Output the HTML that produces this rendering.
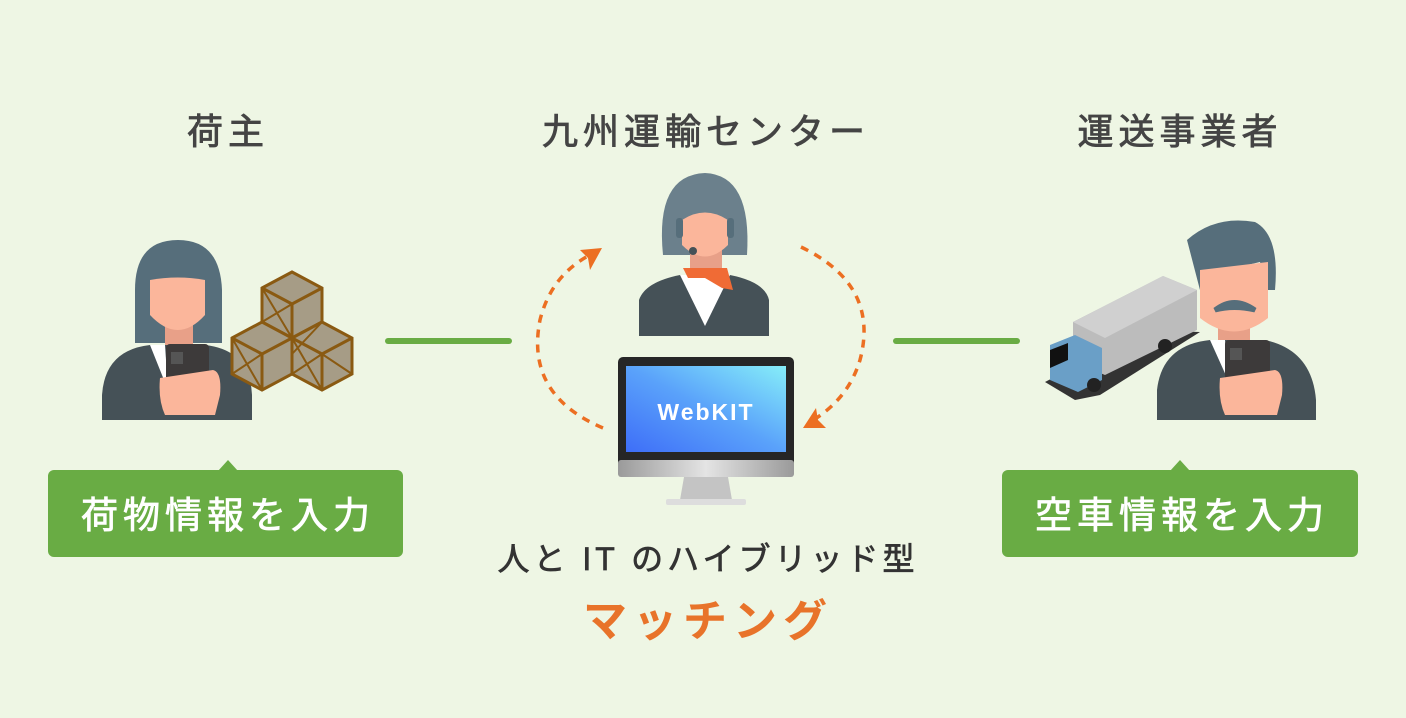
<!DOCTYPE html>
<html><head><meta charset="utf-8"><style>
body{margin:0;background:#eef6e4;}
svg{display:block}
text{font-family:"Liberation Sans","Noto Sans CJK JP",sans-serif}
</style></head><body>
<svg width="1406" height="718" viewBox="0 0 1406 718" xmlns="http://www.w3.org/2000/svg">
<defs>
<linearGradient id="scr" x1="0" y1="1" x2="1" y2="0"><stop offset="0" stop-color="#3e6ef8"/><stop offset="0.5" stop-color="#5aa2fa"/><stop offset="1" stop-color="#86eef9"/></linearGradient>
<linearGradient id="sil" x1="0" y1="0" x2="1" y2="0"><stop offset="0" stop-color="#9a9a9a"/><stop offset="0.5" stop-color="#e4e4e4"/><stop offset="1" stop-color="#9a9a9a"/></linearGradient>
</defs>
<rect width="1406" height="718" fill="#eef6e4"/>
<g fill="#444" stroke="#444" stroke-width="0.8" font-size="36" text-anchor="middle" letter-spacing="5">
<text x="228" y="144">荷主</text>
<text x="706" y="144">九州運輸センター</text>
<text x="1180" y="144">運送事業者</text>
</g>
<!-- left person -->
<path d="M135 343 L135 290 Q135 240 178 240 Q220 240 222 290 L222 343 Z" fill="#566e7b"/>
<rect x="165" y="310" width="28" height="40" fill="#e8a088"/>
<path d="M150 280 Q178 275 205 280 L205 315 Q178 345 150 315 Z" fill="#fbb69b"/>
<path d="M102 420 L102 395 Q105 350 150 345 L205 345 Q250 350 252 395 L252 420 Z" fill="#455157"/>
<path d="M150 345 L165 345 L168 390 Z" fill="#fff"/>
<rect x="166" y="344" width="43" height="45" rx="4" fill="#3d3a3a"/>
<rect x="171" y="352" width="12" height="12" fill="#555"/>
<path d="M160 378 L213 370 Q222 372 220 395 L215 415 L165 415 Q158 400 160 378Z" fill="#fbb69b"/>
<!-- crates -->
<g stroke="#8a5a12" stroke-width="3">
<path d="M262 288 L292 272 L322 288 L322 322 L292 338 L262 322Z" fill="#a69c86"/>
<path d="M232 338 L262 322 L292 338 L292 374 L262 390 L232 374Z" fill="#a69c86"/>
<path d="M292 338 L322 322 L352 338 L352 374 L322 390 L292 374Z" fill="#a69c86"/>
<path d="M262 288 L292 304 L322 288 M292 304 L292 338 M232 338 L262 354 L292 338 M262 354 L262 390 M292 338 L322 354 L352 338 M322 354 L322 390" fill="none"/>
<path d="M262 322 L292 304 M262 288 L292 338 M232 374 L262 354 M232 338 L262 390 M292 374 L322 354 M292 338 L322 390 M322 322 L292 354 M352 374 L322 354" fill="none" stroke-width="2"/>
</g>
<!-- green lines -->
<rect x="385" y="338" width="127" height="6" rx="3" fill="#69ac44"/>
<rect x="893" y="338" width="127" height="6" rx="3" fill="#69ac44"/>
<!-- operator -->
<path d="M663 255 Q655 175 705 173 Q752 175 747 255 Z" fill="#6b808c"/>
<rect x="690" y="245" width="32" height="35" fill="#e8a088"/>
<path d="M682 220 Q705 205 728 220 L728 245 Q705 268 682 245Z" fill="#fbb69b"/>
<rect x="676" y="218" width="7" height="20" rx="3" fill="#566e7b"/>
<rect x="727" y="218" width="7" height="20" rx="3" fill="#566e7b"/>
<circle cx="693" cy="251" r="4" fill="#455157"/>
<path d="M639 336 L639 300 Q645 282 680 275 L730 275 Q765 282 769 300 L769 336Z" fill="#455157"/>
<path d="M680 275 L730 275 L705 326Z" fill="#fff"/>
<path d="M683 268 L727 268 L733 290 L722 288 L705 278 L688 278Z" fill="#f06b35"/>
<!-- monitor -->
<rect x="618" y="357" width="176" height="120" rx="5" fill="#262626"/>
<rect x="626" y="366" width="160" height="86" fill="url(#scr)"/>
<rect x="618" y="460" width="176" height="17" rx="3" fill="url(#sil)"/>
<path d="M684 477 L728 477 L732 500 L680 500Z" fill="#c4c4c4"/>
<rect x="666" y="499" width="80" height="6" rx="2" fill="#ddd"/>
<text x="706" y="420" fill="#fff" font-size="23" text-anchor="middle" letter-spacing="2" font-weight="bold">WebKIT</text>
<!-- arrows -->
<g fill="none" stroke="#ec6f22" stroke-width="3.5" stroke-dasharray="8 7">
<path d="M603 428 Q525 395 540 320 Q552 272 596 252"/>
<path d="M801 247 Q880 285 860 360 Q848 400 810 422"/>
</g>
<path d="M602 248 L580 250 L588 258 L590 270Z" fill="#ec6f22"/>
<path d="M803 428 L826 428 L818 420 L816 408Z" fill="#ec6f22"/>
<!-- truck -->
<path d="M1045 382 L1145 330 L1200 332 L1100 395 L1075 400Z" fill="#333"/>
<path d="M1073 322 L1163 276 L1197 290 L1197 330 L1105 375 L1073 362Z" fill="#bcbcbc"/>
<path d="M1073 322 L1163 276 L1197 290 L1105 338Z" fill="#d0d0d0"/>
<path d="M1050 345 L1075 335 L1102 348 L1102 380 L1078 392 L1050 380Z" fill="#6a9fc7"/>
<path d="M1050 350 L1068 343 L1068 360 L1050 368Z" fill="#111"/>
<circle cx="1094" cy="385" r="7" fill="#222"/><circle cx="1165" cy="346" r="7" fill="#222"/>
<!-- right man -->
<path d="M1187 240 Q1215 215 1255 222 Q1280 235 1275 290 L1268 290 L1260 262 L1205 275 L1200 290 Z" fill="#566e7b"/>
<rect x="1218" y="310" width="32" height="40" fill="#e8a088"/>
<path d="M1200 270 L1268 262 L1268 318 Q1234 345 1200 318Z" fill="#fbb69b"/>
<path d="M1215 310 Q1234 295 1255 310 Q1234 305 1215 310Z" fill="#566e7b" stroke="#566e7b" stroke-width="5"/>
<path d="M1157 420 L1157 390 Q1162 345 1210 340 L1265 340 Q1312 350 1316 400 L1316 420Z" fill="#455157"/>
<path d="M1210 340 L1225 340 L1228 380Z" fill="#fff"/>
<rect x="1225" y="340" width="45" height="47" rx="4" fill="#3d3a3a"/>
<rect x="1230" y="348" width="12" height="12" fill="#555"/>
<path d="M1220 378 L1275 370 Q1284 372 1282 395 L1277 415 L1225 415 Q1218 400 1220 378Z" fill="#fbb69b"/>
<!-- green boxes -->
<rect x="48" y="470" width="355" height="87" rx="6" fill="#69ac44"/>
<path d="M218 471 L228 460 L238 471Z" fill="#69ac44"/>
<rect x="1002" y="470" width="356" height="87" rx="6" fill="#69ac44"/>
<path d="M1170 471 L1180 460 L1190 471Z" fill="#69ac44"/>
<g fill="#fff" stroke="#fff" stroke-width="0.8" font-size="37" text-anchor="middle" letter-spacing="5">
<text x="228" y="528">荷物情報を入力</text>
<text x="1182" y="528">空車情報を入力</text>
</g>
<text x="708" y="570" fill="#333" stroke="#333" stroke-width="0.7" font-size="32" text-anchor="middle" letter-spacing="4">人と IT のハイブリッド型</text>
<text x="708" y="636" fill="#e8732a" font-size="44" font-weight="bold" text-anchor="middle" letter-spacing="6">マッチング</text>
</svg>
</body></html>
